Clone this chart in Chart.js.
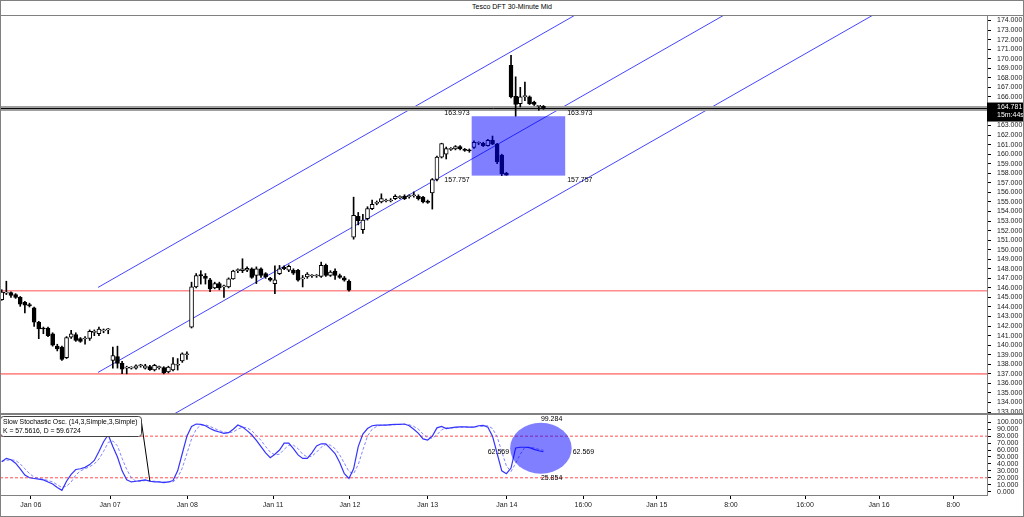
<!DOCTYPE html>
<html>
<head>
<meta charset="utf-8">
<script src="https://cdn.jsdelivr.net/npm/chart.js@4.4.1/dist/chart.umd.min.js"></script>
<style>
html,body{margin:0;padding:0;background:#fff;}
#wrap{position:relative;width:1024px;height:517px;overflow:hidden;background:#fff;font-family:"Liberation Sans",Arial,sans-serif;}
#title{position:absolute;left:0;top:0;width:1024px;height:15px;line-height:14px;text-align:center;font-size:7px;color:#000;}
canvas{position:absolute;left:0;}
#c1{top:16px;}
#c2{top:415px;}
.ln{position:absolute;background:#808080;}
</style>
</head>
<body>
<div id="wrap">
<div id="title">Tesco DFT 30-Minute Mid</div>
<canvas id="c1" width="1024" height="397"></canvas>
<canvas id="c2" width="1024" height="102"></canvas>
<div class="ln" style="left:0;top:0;width:1024px;height:1px"></div>
<div class="ln" style="left:0;top:15px;width:1024px;height:1px"></div>
<div class="ln" style="left:0;top:413px;width:1024px;height:2px"></div>
<div class="ln" style="left:0;top:516px;width:1024px;height:1px"></div>
<div class="ln" style="left:0;top:0;width:1px;height:517px"></div>
<div class="ln" style="left:1023px;top:0;width:1px;height:517px"></div>
</div>
<script>
// ---------------- data ----------------
const candleOpen = [144.77,145.45,145.50,145.30,145.00,144.50,144.25,143.90,142.40,141.75,
141.80,141.20,139.90,139.80,138.70,140.85,141.10,140.70,140.65,140.70,
141.35,141.20,141.50,141.60,138.40,138.80,138.10,137.60,137.60,137.60,
137.85,137.60,137.75,137.40,137.65,137.65,137.20,137.40,137.90,138.35,
139.00,141.90,146.10,147.40,147.20,146.85,146.00,146.45,146.10,146.10,
146.95,147.80,147.80,147.85,148.00,147.30,148.00,147.50,147.00,146.45,
147.50,148.15,147.85,147.85,147.85,146.95,147.15,147.25,147.25,147.20,
148.35,147.30,147.75,147.30,147.05,146.70,151.30,153.50,152.10,153.25,
154.30,154.85,155.00,155.10,155.10,155.35,155.45,155.60,155.55,155.65,
155.60,155.50,155.10,155.95,157.35,159.70,160.00,160.50,160.55,160.80,
160.45,160.40,160.70,161.15,161.15,160.90,161.45,161.05,159.90,158.00,
169.30,166.05,165.30,166.00,166.00,165.45,165.00,165.00];
const candleHigh = [145.81,146.70,145.60,145.40,145.10,144.60,144.40,144.00,142.50,141.90,
141.90,141.30,140.10,139.90,140.90,141.56,141.30,140.80,140.90,141.60,
141.60,141.90,141.70,141.75,139.80,139.90,138.30,137.80,137.75,137.95,
138.00,138.00,137.90,138.00,137.80,137.75,137.80,138.70,138.60,139.20,
139.30,146.60,147.50,147.80,147.50,147.00,146.60,146.60,146.30,147.05,
147.85,148.00,149.05,148.20,148.10,148.20,148.10,147.60,147.10,148.30,
148.35,148.30,148.40,148.00,147.95,147.30,147.60,147.40,147.40,148.70,
148.50,147.80,148.00,147.45,147.20,146.85,155.50,153.90,153.70,154.50,
155.20,155.10,155.85,155.30,155.35,155.75,155.65,155.75,155.75,156.05,
155.75,155.60,155.20,157.45,159.80,161.15,160.75,160.70,160.90,160.90,
160.60,160.55,161.40,161.30,161.25,161.55,161.90,161.15,160.00,158.10,
170.35,168.10,167.00,167.55,166.10,165.55,165.10,165.10];
const candleLow = [144.70,145.30,145.00,144.90,144.07,143.37,144.00,141.96,140.68,141.20,
140.90,139.90,139.40,138.40,138.60,140.70,140.40,140.30,140.10,140.50,
141.00,141.00,141.30,141.20,137.60,137.60,137.02,137.00,137.50,137.50,
137.70,137.50,137.35,137.30,137.50,137.00,137.10,137.30,137.40,138.20,
138.50,141.80,146.00,146.40,146.40,145.60,145.90,145.80,145.00,146.00,
146.90,147.60,147.60,147.70,147.00,146.45,147.10,147.00,146.70,145.40,
147.40,147.90,147.70,147.40,146.70,146.10,147.00,147.10,147.10,147.10,
147.20,147.20,146.90,147.00,146.70,145.65,151.10,152.60,151.70,153.10,
154.20,154.70,154.90,155.00,155.00,155.25,155.35,155.25,155.40,155.50,
155.20,154.90,154.85,154.25,157.20,159.60,159.50,160.40,160.45,160.45,
160.30,160.20,160.60,161.00,160.80,160.85,161.00,159.00,157.757,157.80,
165.90,163.973,164.95,165.60,165.20,165.10,164.60,164.70];
const candleClose = [145.57,145.50,145.20,145.00,144.30,144.20,144.10,142.40,141.70,141.70,
141.00,140.00,139.60,138.50,140.80,141.20,140.50,140.40,140.70,141.45,
141.40,141.70,141.55,141.65,138.90,138.10,137.50,137.65,137.65,137.85,
137.90,137.85,137.45,137.90,137.70,137.10,137.70,138.05,137.95,139.10,
139.05,146.10,147.30,147.25,147.00,145.90,146.45,146.00,146.15,146.95,
147.75,147.85,148.00,148.05,147.10,148.00,147.30,147.15,146.80,146.85,
148.00,148.00,148.25,147.55,146.80,147.00,147.45,147.30,147.30,148.35,
147.30,147.65,147.30,147.10,146.80,145.75,153.60,153.05,153.10,154.30,
154.75,154.90,155.35,155.15,155.15,155.60,155.50,155.35,155.60,155.70,
155.35,155.00,154.95,157.35,159.70,161.10,160.60,160.55,160.80,160.55,
160.40,160.35,161.25,161.20,160.90,161.45,161.05,159.20,157.95,157.80,
166.00,165.20,166.00,166.15,165.30,165.20,165.05,164.781];

const stochK = [43,48,46,41,33,24,20,19,18,17,14,11,6,2,15,25,32,33,35,39,
45,58,72,82,65,50,30,17,14,15,16,17,15,14,14,13,14,16,30,55,
80,94,97.5,97,95,91,88,86,84,85,90,96,93,88,82,74,65,56,49,54,
60,70,70,62,53,48,48,56,66,69,69,62,55,42,26,19,33,65,83,91,
95,96,96,96,96.5,97,97,97.5,95,90,84,76,74.5,80,92,94,91,92,93,93.5,
93.5,93,93,95,95.5,93,80,55,30,25.854,34,63,64,64,63.5,61,59,57.5616];
const stochD = [44,45,46,45,40,33,26,21,19,18,16,14,10,6,8,14,24,30,33,36,
40,47,58,71,73,66,48,32,20,15,15,16,16,15,14,14,14,14,20,34,
55,76,90,96,96.5,94,91,88,86,85,86,90,93,92,88,81,74,65,57,53,
54,61,67,67,62,54,50,51,57,64,68,67,62,53,41,29,26,39,60,80,
90,94,96,96,96,96.5,97,97,96.5,94,90,83,78,77,82,89,92,92,92,93,
93,93,93,94,94.5,95,91,79,58,37,29,41,54,64,64,63,61,59.6724];

const timeTickLabels = ['Jan 06','Jan 07','Jan 08','Jan 11','Jan 12','Jan 13','Jan 14','16:00','Jan 15','8:00','16:00','Jan 16','8:00'];
const timeTickBars   = [6.3,23.4,40.1,58.6,75.2,92,109.1,125.6,141.5,157.5,173.5,189.5,205.5];
const stochTickValues = [0,10,20,30,40,50,60,70,80,90,100];
const stochLevels = [80,20];
const priceLevels = [145.7,137.0];
const lastPrice = 164.781;
const countdown = '15m:44s';
const channelBars = [20.8,212.8];
const channelUpper = [146.05,199.18];
const channelMiddle = [137.15,190.28];
const channelLower = [128.25,181.38];
const boxBars = [101.5,121.7];
const boxPrices = [157.757,163.973];
const ellipseBars = [109.8,123.1];
const ellipseValues = [25.854,99.284];
const pointerBar = 32;
const indicatorName = 'Slow Stochastic Osc. (14,3,Simple,3,Simple)';
const indicatorValues = 'K = 57.5616, D = 59.6724';

// ---------------- view ----------------
const X_MIN = -0.37, X_MAX = 212.8;
const P_MIN = 132.9, P_MAX = 174.47, P_FIRST = 133, P_LAST = 174;
const S_MIN = -4.8, S_MAX = 110.5;
const FONT_FAMILY = '"Liberation Sans", Arial, sans-serif';
const FONT = '7px ' + FONT_FAMILY;
const FONT_SMALL = '6.8px ' + FONT_FAMILY;
const AXIS_TXT = '#222';

Chart.defaults.font.family = FONT_FAMILY;
Chart.defaults.font.size = 7;

const hline = v => [{x: X_MIN, y: v}, {x: X_MAX, y: v}];
const seg = (xs, ys) => [{x: xs[0], y: ys[0]}, {x: xs[1], y: ys[1]}];
const lineDs = (data, color, width, order, dash) => ({type: 'line', data, borderColor: color, borderWidth: width, borderDash: dash || [], pointRadius: 0, tension: 0, fill: false, order});

const bodies = candleOpen.map((o, i) => ({x: i, y: [o, candleClose[i]]}));
const wicks = candleLow.map((l, i) => ({x: i, y: [l, candleHigh[i]]}));
const bodyFill = candleOpen.map((o, i) => candleClose[i] >= o ? '#ffffff' : '#000000');

function axisRight(s) { s.width = 37; s.paddingTop = 0; s.paddingBottom = 0; }

const mainOverlay = {
  id: 'mainOverlay',
  afterDatasetsDraw(chart) {
    const {ctx, scales: {x, y}} = chart;
    const l = x.getPixelForValue(boxBars[0]), r = x.getPixelForValue(boxBars[1]);
    const t = y.getPixelForValue(boxPrices[1]), b = y.getPixelForValue(boxPrices[0]);
    ctx.save();
    ctx.fillStyle = 'rgba(0,0,255,0.5)';
    ctx.fillRect(l, t, r - l, b - t);
    ctx.font = FONT;
    ctx.fillStyle = '#000';
    ctx.textBaseline = 'bottom';
    ctx.textAlign = 'right'; ctx.fillText(boxPrices[1].toFixed(3), l - 2, t);
    ctx.textAlign = 'left'; ctx.fillText(boxPrices[1].toFixed(3), r + 2, t);
    ctx.textBaseline = 'top';
    ctx.textAlign = 'right'; ctx.fillText(boxPrices[0].toFixed(3), l - 2, b + 1);
    ctx.textAlign = 'left'; ctx.fillText(boxPrices[0].toFixed(3), r + 2, b + 1);
    ctx.restore();
  },
  afterDraw(chart) {
    const {ctx, scales: {y}} = chart;
    const py = y.getPixelForValue(lastPrice);
    ctx.save();
    ctx.fillStyle = '#000';
    ctx.fillRect(y.left, py - 6, chart.width - y.left, 19);
    ctx.fillStyle = '#fff';
    ctx.font = FONT;
    ctx.textAlign = 'left';
    ctx.textBaseline = 'middle';
    ctx.fillText(lastPrice.toFixed(3), y.left + 10, py - 1);
    ctx.fillText(countdown, y.left + 10, py + 7);
    ctx.restore();
  }
};

new Chart(document.getElementById('c1'), {
  type: 'bar',
  data: {datasets: [
    {type: 'bar', data: bodies, backgroundColor: bodyFill, borderColor: '#000', borderWidth: 1, borderSkipped: false,
     barThickness: 4, maxBarThickness: 4, minBarLength: 1, grouped: false, order: 1},
    {type: 'bar', data: wicks, backgroundColor: '#000', borderWidth: 0,
     barThickness: 1, maxBarThickness: 1, minBarLength: 1, grouped: false, order: 2},
    lineDs(hline(lastPrice), '#000', 1, 3),
    lineDs(hline(lastPrice), '#a0a0a0', 5, 4),
    lineDs(seg(channelBars, channelUpper), '#4545ff', 1, 5),
    lineDs(seg(channelBars, channelMiddle), '#4545ff', 1, 5),
    lineDs(seg(channelBars, channelLower), '#4545ff', 1, 5),
    lineDs(hline(priceLevels[0]), '#ff8c8c', 1.6, 6),
    lineDs(hline(priceLevels[1]), '#ff8c8c', 1.6, 6)
  ]},
  options: {
    responsive: false, animation: false, events: [],
    layout: {padding: 0},
    plugins: {legend: {display: false}, tooltip: {enabled: false}},
    scales: {
      x: {type: 'linear', display: false, min: X_MIN, max: X_MAX, offset: false},
      y: {
        type: 'linear', position: 'right', min: P_MIN, max: P_MAX,
        afterBuildTicks(s) {
          const t = [];
          for (let v = P_FIRST; v <= P_LAST; v++) t.push({value: v});
          s.ticks = t; s.min = P_MIN; s.max = P_MAX;
        },
        afterFit: axisRight,
        grid: {drawOnChartArea: false, drawTicks: true, tickLength: 4, tickColor: '#000', tickWidth: 1},
        border: {display: true, color: '#808080', width: 1},
        ticks: {autoSkip: false, padding: 6, color: AXIS_TXT, font: {size: 7}, callback: v => Number(v).toFixed(3)}
      }
    }
  },
  plugins: [mainOverlay]
});

const stochOverlay = {
  id: 'stochOverlay',
  afterDatasetsDraw(chart) {
    const {ctx, scales: {x, y}} = chart;
    const l = x.getPixelForValue(ellipseBars[0]), r = x.getPixelForValue(ellipseBars[1]);
    const t = y.getPixelForValue(ellipseValues[1]), b = y.getPixelForValue(ellipseValues[0]);
    const cx = (l + r) / 2, cy = (t + b) / 2;
    ctx.save();
    ctx.fillStyle = 'rgba(0,0,255,0.5)';
    ctx.beginPath();
    ctx.ellipse(cx, cy, (r - l) / 2, (b - t) / 2, 0, 0, Math.PI * 2);
    ctx.fill();
    const mid = ((ellipseValues[0] + ellipseValues[1]) / 2).toFixed(3);
    ctx.font = FONT;
    ctx.fillStyle = '#000';
    ctx.textAlign = 'left';
    ctx.textBaseline = 'bottom'; ctx.fillText(ellipseValues[1].toFixed(3), cx, t);
    ctx.textBaseline = 'top'; ctx.fillText(ellipseValues[0].toFixed(3), cx, b + 1);
    ctx.textBaseline = 'top';
    ctx.fillText(mid, r + 1, cy);
    ctx.textAlign = 'right'; ctx.fillText(mid, l - 1, cy);
    ctx.restore();
  },
  afterDraw(chart) {
    const {ctx, scales: {x, y}} = chart;
    ctx.save();
    const px = x.getPixelForValue(pointerBar), py = y.getPixelForValue(stochK[pointerBar]);
    ctx.strokeStyle = '#000';
    ctx.lineWidth = 1;
    ctx.beginPath();
    ctx.moveTo(141, 4);
    ctx.lineTo(px, py);
    ctx.stroke();
    ctx.fillStyle = '#fff';
    ctx.strokeStyle = '#444';
    ctx.beginPath();
    ctx.roundRect(0.5, 1.5, 141, 20, 3);
    ctx.fill();
    ctx.stroke();
    ctx.fillStyle = '#000';
    ctx.font = FONT_SMALL;
    ctx.textAlign = 'left';
    ctx.textBaseline = 'middle';
    ctx.fillText(indicatorName, 3, 7);
    ctx.fillText(indicatorValues, 3, 16);
    ctx.restore();
  }
};

new Chart(document.getElementById('c2'), {
  type: 'line',
  data: {datasets: [
    lineDs(stochK.map((v, i) => ({x: i, y: v})), '#3434ff', 1.2, 1),
    lineDs(stochD.map((v, i) => ({x: i, y: v})), 'rgba(110,110,255,0.85)', 1, 2, [3, 2]),
    lineDs(hline(stochLevels[0]), '#ff5050', 1, 3, [3, 2]),
    lineDs(hline(stochLevels[1]), '#ff5050', 1, 3, [3, 2])
  ]},
  options: {
    responsive: false, animation: false, events: [],
    layout: {padding: 0},
    plugins: {legend: {display: false}, tooltip: {enabled: false}},
    scales: {
      x: {
        type: 'linear', position: 'bottom', min: X_MIN, max: X_MAX, offset: false,
        afterBuildTicks(s) { s.ticks = timeTickBars.map(v => ({value: v})); s.min = X_MIN; s.max = X_MAX; },
        afterFit(s) { s.height = 22; s.paddingLeft = 0; s.paddingRight = 0; },
        grid: {drawOnChartArea: false, tickLength: 4, tickColor: '#000'},
        border: {display: true, color: '#808080', width: 1},
        ticks: {autoSkip: false, maxRotation: 0, minRotation: 0, padding: 2, color: AXIS_TXT, font: {size: 7},
                callback: (v, i) => timeTickLabels[i]}
      },
      y: {
        type: 'linear', position: 'right', min: S_MIN, max: S_MAX,
        afterBuildTicks(s) { s.ticks = stochTickValues.map(v => ({value: v})); s.min = S_MIN; s.max = S_MAX; },
        afterFit: axisRight,
        grid: {drawOnChartArea: false, tickLength: 4, tickColor: '#000'},
        border: {display: true, color: '#808080', width: 1},
        ticks: {autoSkip: false, padding: 6, color: AXIS_TXT, font: {size: 7}, callback: v => Number(v).toFixed(3)}
      }
    }
  },
  plugins: [stochOverlay]
});
</script>
</body>
</html>
